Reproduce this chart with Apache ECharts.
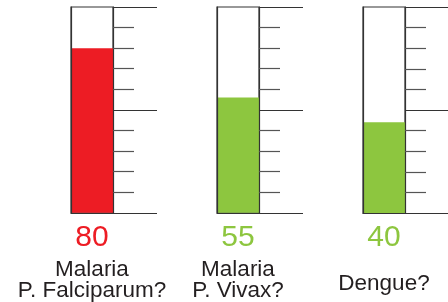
<!DOCTYPE html>
<html>
<head>
<meta charset="utf-8">
<script src="https://cdn.jsdelivr.net/npm/echarts@6/dist/echarts.min.js"></script>
<style>
  html, body { margin: 0; padding: 0; background: #fff; }
  #main { width: 448px; height: 302px; }
</style>
</head>
<body>
<div id="main"></div>
<script>
// データ
const categories = ['Malaria\nP. Falciparum?', 'Malaria\nP. Vivax?', 'Dengue?'];
const fillLevels = [80, 56, 44];          // 棒の高さ
const shownValues = ['80', '55', '40'];   // 下に表示される数字
const scaleTicks = [0, 50, 100];

const chart = echarts.init(document.getElementById('main'));

const colors = ['#ed1c24', '#8dc63f', '#8dc63f'];
const lefts = [71, 217, 363];
const lineColor = '#333';

const grids = [], xAxes = [], yAxes = [], series = [];

categories.forEach((name, i) => {
    grids.push({ left: lefts[i], top: 7, width: 42, height: 206,
        show: true, borderColor: lineColor, borderWidth: 1.2, backgroundColor: '#fff' });

    xAxes.push({
        type: 'category', gridIndex: i, data: [name], z: 5,
        axisLine: { lineStyle: { color: lineColor, width: 1.2 } },
        axisTick: { show: false },
        axisLabel: {
            margin: 3,
            formatter: () => {
                const lines = name.split('\n');
                if (lines.length === 1) return `{v${i}|${shownValues[i]}}\n{d|${lines[0]}}`;
                return `{v${i}|${shownValues[i]}}\n` + lines.map(l => `{n|${l}}`).join('\n');
            },
            rich: {
                ['v' + i]: { fontSize: 30, lineHeight: 44, color: colors[i], fontFamily: 'Liberation Sans' },
                n: { fontSize: 22.5, lineHeight: 20.5, color: '#231f20', fontFamily: 'Liberation Sans' },
                d: { fontSize: 22.5, lineHeight: 48, color: '#231f20', fontFamily: 'Liberation Sans' }
            }
        }
    });

    // 左側の枠線
    yAxes.push({
        type: 'value', gridIndex: i, min: 0, max: 100, position: 'left', z: 5,
        axisLine: { show: true, lineStyle: { color: lineColor, width: 1.2 } },
        axisTick: { show: false }, axisLabel: { show: false }, splitLine: { show: false }
    });
    // 右側の目盛り
    yAxes.push({
        type: 'value', gridIndex: i, min: scaleTicks[0], max: scaleTicks[2],
        interval: scaleTicks[1] - scaleTicks[0], position: 'right', z: 5,
        axisLine: { show: true, lineStyle: { color: lineColor, width: 1.2 } },
        axisTick: { show: true, length: 44, lineStyle: { color: lineColor, width: 1.2 } },
        minorTick: { show: true, splitNumber: 5, length: 21, lineStyle: { color: '#555', width: 1.2 } },
        axisLabel: { show: false }, splitLine: { show: false }
    });

    series.push({
        type: 'bar', xAxisIndex: i, yAxisIndex: i * 2, barWidth: '100%',
        data: [fillLevels[i]], itemStyle: { color: colors[i] }, silent: true
    });
});

chart.setOption({
    animation: false,
    grid: grids,
    xAxis: xAxes,
    yAxis: yAxes,
    series: series
});
</script>
</body>
</html>
